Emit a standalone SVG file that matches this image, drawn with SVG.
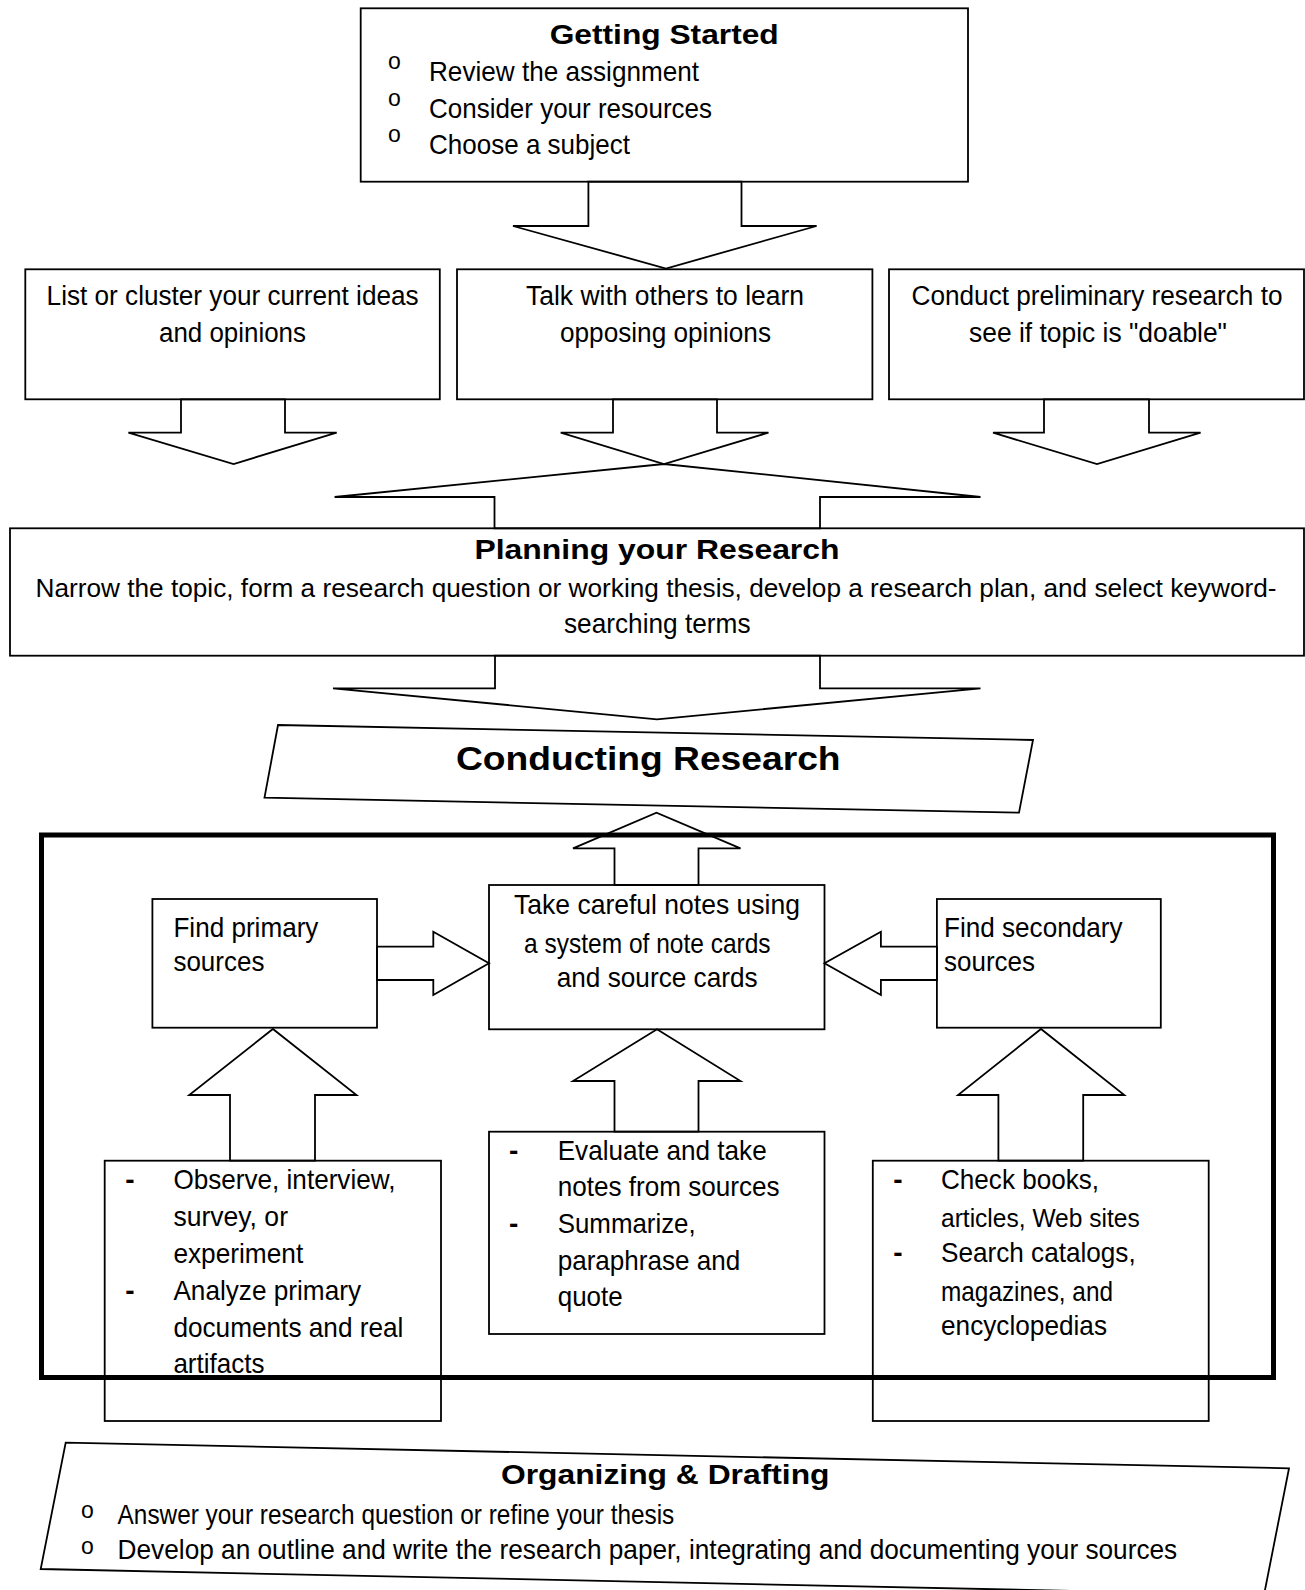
<svg xmlns="http://www.w3.org/2000/svg" width="1305" height="1590" viewBox="0 0 1305 1590">
<style>
.box{fill:#fff;stroke:#000;stroke-width:1.8}
.arr{fill:none;stroke:#000;stroke-width:1.8;stroke-linejoin:miter}
.frame{fill:none;stroke:#000;stroke-width:5}
text{font-family:"Liberation Sans",Arial,sans-serif;font-size:28px;fill:#000}
.b{font-weight:bold;font-size:28px}
.big{font-weight:bold;font-size:34px}
.bul{font-size:23px}
.dash{font-weight:bold}
.sm{font-size:25px}
.r2{font-size:27px}
.pl{font-size:26px}
</style>
<rect width="1305" height="1590" fill="#fff"/>

<g id="getting-started">
<rect class="box" x="360.7" y="8.3" width="607.3" height="173.4"/>
<text class="b" x="549.7" y="43.5" textLength="229" lengthAdjust="spacingAndGlyphs">Getting Started</text>
<text class="bul" x="394.5" y="69" text-anchor="middle">o</text>
<text x="429" y="81" textLength="270" lengthAdjust="spacingAndGlyphs">Review the assignment</text>
<text class="bul" x="394.5" y="105.5" text-anchor="middle">o</text>
<text x="429" y="117.5" textLength="283" lengthAdjust="spacingAndGlyphs">Consider your resources</text>
<text class="bul" x="394.5" y="142" text-anchor="middle">o</text>
<text x="429" y="154" textLength="201" lengthAdjust="spacingAndGlyphs">Choose a subject</text>
</g>

<g id="list-ideas">
<rect class="box" x="25.3" y="269.3" width="414.5" height="130"/>
<text class="r2" x="46.6" y="305" textLength="372" lengthAdjust="spacingAndGlyphs">List or cluster your current ideas</text>
<text class="r2" x="159" y="342" textLength="147" lengthAdjust="spacingAndGlyphs">and opinions</text>
</g>

<g id="talk-others">
<rect class="box" x="457" y="269.3" width="415.4" height="130"/>
<text class="r2" x="526" y="305" textLength="278" lengthAdjust="spacingAndGlyphs">Talk with others to learn</text>
<text class="r2" x="560" y="342" textLength="211" lengthAdjust="spacingAndGlyphs">opposing opinions</text>
</g>

<g id="preliminary">
<rect class="box" x="889" y="269.3" width="415" height="130"/>
<text class="r2" x="911.5" y="305" textLength="371" lengthAdjust="spacingAndGlyphs">Conduct preliminary research to</text>
<text class="r2" x="969" y="342" textLength="258" lengthAdjust="spacingAndGlyphs">see if topic is "doable"</text>
</g>

<g id="planning">
<rect class="box" x="10" y="528.3" width="1294" height="127.4"/>
<text class="b" x="474.5" y="559" textLength="365" lengthAdjust="spacingAndGlyphs">Planning your Research</text>
<text class="pl" x="35.5" y="596.5" textLength="1241" lengthAdjust="spacingAndGlyphs">Narrow the topic, form a research question or working thesis, develop a research plan, and select keyword-</text>
<text x="564" y="632.5" textLength="186.5" lengthAdjust="spacingAndGlyphs">searching terms</text>
</g>

<g id="conducting">
<polygon class="box" points="278,725 1033,740 1019,812.7 264.5,797.7"/>
<text class="big" x="456" y="770" textLength="384.6" lengthAdjust="spacingAndGlyphs">Conducting Research</text>
</g>

<g id="take-notes">
<rect class="box" x="489" y="885" width="335.5" height="144.3"/>
<text x="514" y="913.5" textLength="286" lengthAdjust="spacingAndGlyphs">Take careful notes using</text>
<text x="524" y="952.5" textLength="246.6" lengthAdjust="spacingAndGlyphs">a system of note cards</text>
<text x="556.7" y="986.5" textLength="201" lengthAdjust="spacingAndGlyphs">and source cards</text>
</g>

<g id="primary">
<rect class="box" x="152.4" y="899" width="224.6" height="128.7"/>
<text x="173.4" y="936.5" textLength="145" lengthAdjust="spacingAndGlyphs">Find primary</text>
<text x="173.4" y="971" textLength="91" lengthAdjust="spacingAndGlyphs">sources</text>
</g>

<g id="secondary">
<rect class="box" x="936.9" y="899" width="223.9" height="128.7"/>
<text x="944" y="936.5" textLength="178.5" lengthAdjust="spacingAndGlyphs">Find secondary</text>
<text x="944" y="971" textLength="91" lengthAdjust="spacingAndGlyphs">sources</text>
</g>

<g id="primary-methods">
<rect class="box" x="104.7" y="1160.7" width="336.3" height="260.3"/>
<text class="dash" x="130" y="1189" text-anchor="middle">-</text>
<text x="173.4" y="1189" textLength="222" lengthAdjust="spacingAndGlyphs">Observe, interview,</text>
<text x="173.4" y="1226" textLength="114.6" lengthAdjust="spacingAndGlyphs">survey, or</text>
<text x="173.4" y="1262.5" textLength="129.8" lengthAdjust="spacingAndGlyphs">experiment</text>
<text class="dash" x="130" y="1300" text-anchor="middle">-</text>
<text x="173.4" y="1300" textLength="187.6" lengthAdjust="spacingAndGlyphs">Analyze primary</text>
<text x="173.4" y="1336.5" textLength="230" lengthAdjust="spacingAndGlyphs">documents and real</text>
<text x="173.4" y="1372.5" textLength="91" lengthAdjust="spacingAndGlyphs">artifacts</text>
</g>

<g id="evaluate">
<rect class="box" x="489" y="1131.7" width="335.5" height="202.3"/>
<text class="dash" x="513.7" y="1160" text-anchor="middle">-</text>
<text x="557.7" y="1160" textLength="209" lengthAdjust="spacingAndGlyphs">Evaluate and take</text>
<text x="557.7" y="1196" textLength="222" lengthAdjust="spacingAndGlyphs">notes from sources</text>
<text class="dash" x="513.7" y="1233" text-anchor="middle">-</text>
<text x="557.7" y="1233" textLength="138" lengthAdjust="spacingAndGlyphs">Summarize,</text>
<text x="557.7" y="1270" textLength="182.5" lengthAdjust="spacingAndGlyphs">paraphrase and</text>
<text x="557.7" y="1306" textLength="65" lengthAdjust="spacingAndGlyphs">quote</text>
</g>

<g id="secondary-methods">
<rect class="box" x="872.8" y="1160.7" width="335.9" height="260.3"/>
<text class="dash" x="898" y="1189" text-anchor="middle">-</text>
<text x="941" y="1189" textLength="158" lengthAdjust="spacingAndGlyphs">Check books,</text>
<text class="sm" x="941" y="1227" textLength="198.7" lengthAdjust="spacingAndGlyphs">articles, Web sites</text>
<text class="dash" x="898" y="1262" text-anchor="middle">-</text>
<text x="941" y="1262" textLength="194.7" lengthAdjust="spacingAndGlyphs">Search catalogs,</text>
<text x="941" y="1300.5" textLength="172" lengthAdjust="spacingAndGlyphs">magazines, and</text>
<text x="941" y="1335" textLength="166" lengthAdjust="spacingAndGlyphs">encyclopedias</text>
</g>

<g id="research-frame">
<rect class="frame" x="41.5" y="835" width="1232" height="542.5"/>
</g>

<g id="organizing">
<polygon class="box" points="65.7,1442.7 1289,1468.3 1264,1595 40.7,1569"/>
<text class="b" x="501" y="1484" textLength="328.5" lengthAdjust="spacingAndGlyphs">Organizing &amp; Drafting</text>
<text class="bul" x="87.5" y="1517.5" text-anchor="middle">o</text>
<text x="117.6" y="1523.5" textLength="556.7" lengthAdjust="spacingAndGlyphs">Answer your research question or refine your thesis</text>
<text class="bul" x="87.5" y="1553.5" text-anchor="middle">o</text>
<text x="117.6" y="1558.5" textLength="1059.6" lengthAdjust="spacingAndGlyphs">Develop an outline and write the research paper, integrating and documenting your sources</text>
</g>

<g id="connectors">
<polygon class="arr" points="588.4,181.7 588.4,226 513,226 666,268.5 816.6,226 741.5,226 741.5,181.7"/>
<polygon class="arr" points="181,399.3 181,432.7 128.4,432.7 233.6,464 336.7,432.7 285,432.7 285,399.3"/>
<polygon class="arr" points="613,399.3 613,432.7 560.7,432.7 664,464 768.5,432.7 717,432.7 717,399.3"/>
<polygon class="arr" points="1044,399.3 1044,432.7 993,432.7 1097,464 1200.6,432.7 1149,432.7 1149,399.3"/>
<polygon class="arr" points="494.5,528.3 494.5,497 334.6,497 664,464 980.5,497 820,497 820,528.3"/>
<polygon class="arr" points="495,655.7 495,688.3 333,688.3 657,719.3 980.5,688.3 820,688.3 820,655.7"/>
<polygon class="arr" points="614.5,885 614.5,848.3 573,848.3 656.5,812.7 740.5,848.3 698.5,848.3 698.5,885"/>
<polygon class="arr" points="377,946.7 433.3,946.7 433.3,931.7 489,963.3 433.3,995 433.3,980 377,980"/>
<polygon class="arr" points="936.9,946.7 880.9,946.7 880.9,931.7 824.5,963.3 880.9,995 880.9,980 936.9,980"/>
<polygon class="arr" points="230,1160.7 230,1095 189.2,1095 272.9,1029 356.5,1095 315,1095 315,1160.7"/>
<polygon class="arr" points="614.5,1131.7 614.5,1081 573,1081 657,1029.3 740.5,1081 698.5,1081 698.5,1131.7"/>
<polygon class="arr" points="998.4,1160.7 998.4,1095 958,1095 1041,1029 1124.3,1095 1083.2,1095 1083.2,1160.7"/>
</g>
</svg>
